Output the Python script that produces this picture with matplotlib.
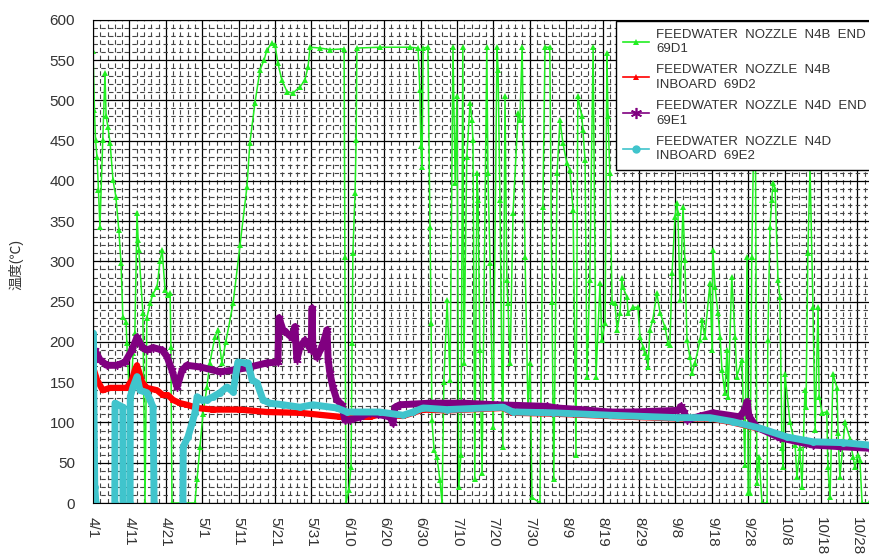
import matplotlib
matplotlib.use("Agg")
import matplotlib.pyplot as plt
from matplotlib.lines import Line2D
import numpy as np

plt.rcParams['font.family'] = ['Liberation Sans', 'Noto Sans CJK JP', 'DejaVu Sans']

# x = days since 4/1
date_labels = ["4/1", "4/11", "4/21", "5/1", "5/11", "5/21", "5/31", "6/10", "6/20",
               "6/30", "7/10", "7/20", "7/30", "8/9", "8/19", "8/29", "9/8", "9/18",
               "9/28", "10/8", "10/18", "10/28"]

# FEEDWATER NOZZLE N4B END 69D1
n4b_end_day = [
    0.0, 0.4, 0.7, 1.1, 1.5, 1.9, 2.7, 3.3, 3.6, 4.1, 4.7, 5.5, 6.3, 7.1, 7.7, 8.2,
    9.1, 9.3, 9.8, 10.2, 10.4, 11.0, 11.5, 12.1, 12.4, 12.6, 13.7, 14.3, 14.8, 15.7,
    16.5, 17.6, 18.4, 19.0, 19.8, 20.6, 21.2, 21.4, 21.7, 28.0, 28.6, 29.4, 30.2, 31.3,
    32.1, 33.5, 34.3, 35.4, 36.5, 38.5, 40.4, 42.3, 43.1, 44.5, 45.9, 47.0, 47.8, 49.2,
    50.0, 50.8, 51.9, 53.3, 54.9, 56.9, 58.2, 59.1, 59.6, 62.4, 65.1, 69.0, 69.2, 69.5,
    70.3, 70.9, 71.2, 71.4, 72.0, 72.3, 72.5, 78.8, 87.1, 89.3, 89.8, 90.1, 90.4, 90.7,
    92.0, 92.6, 92.9, 93.1, 93.7, 94.5, 95.3, 95.9, 96.4, 97.3, 98.1, 98.9, 99.5, 100.0,
    100.5, 101.1, 101.6, 101.9, 102.7, 103.6, 104.1, 104.4, 104.9, 105.5, 105.8, 106.3,
    106.9, 108.2, 108.5, 109.1, 109.9, 111.0, 111.3, 111.8, 112.6, 113.2, 113.7, 114.0,
    114.6, 115.4, 116.8, 117.3, 117.9, 118.7, 119.5, 120.1, 120.6, 122.8, 123.6, 124.2,
    125.5, 126.1, 126.6, 127.5, 128.3, 129.1, 130.2, 131.0, 131.9, 132.7, 133.2, 134.3,
    134.6, 135.2, 135.7, 136.5, 137.4, 138.2, 139.3, 139.8, 140.7, 141.2, 141.5, 142.0,
    142.6, 143.4, 144.0, 144.8, 145.3, 145.6, 146.7, 147.0, 148.4, 149.7, 150.3, 151.1,
    151.6, 152.2, 152.5, 153.0, 153.8, 154.9, 155.8, 157.1, 158.0, 158.5, 159.1, 159.9,
    160.4, 160.7, 161.3, 162.1, 162.6, 163.2, 164.0, 164.6, 165.4, 166.8, 167.3, 168.1,
    169.5, 170.1, 170.3, 170.9, 171.7, 172.3, 172.8, 173.6, 174.2, 174.5, 175.5, 176.4,
    176.9, 178.3, 179.1, 179.7, 180.0, 180.5, 181.0, 181.9, 182.4, 183.0, 183.8, 185.2,
    185.4, 186.0, 186.5, 186.8, 187.4, 188.2, 188.7, 189.3, 189.6, 190.1, 191.5, 192.9,
    193.4, 194.2, 194.8, 195.6, 195.9, 196.4, 197.0, 197.8, 198.4, 199.2, 199.5, 200.3,
    201.6, 201.9, 202.5, 203.3, 204.4, 204.7, 205.2, 206.6, 208.0, 208.8, 209.3, 210.2,
    210.7, 211.3, 213.2]
n4b_end_temp = [
    561, 488, 451, 430, 389, 343, 451, 534, 480, 467, 447, 401, 380, 339, 298, 231,
    225, 199, 150, 0, 130, 186, 211, 360, 327, 314, 236, 0, 230, 248,
    260, 268, 300, 314, 265, 258, 261, 194, 0, 0, 30, 70, 110, 144,
    174, 206, 215, 174, 200, 248, 320, 393, 447, 497, 538, 550, 563, 571,
    569, 546, 525, 511, 509, 517, 525, 542, 566, 565, 563, 564, 306, 0,
    16, 45, 199, 311, 385, 451, 565, 566, 566, 565, 513, 443, 417, 565,
    566, 343, 224, 103, 66, 57, 29, 0, 150, 252, 153, 566, 398, 505,
    20, 60, 566, 174, 430, 497, 476, 451, 30, 410, 376, 190,
    37, 566, 410, 298, 94, 566, 538, 376, 70, 505, 277, 248,
    174, 360, 484, 476, 566, 306, 119, 174, 7, 0, 368, 566,
    566, 250, 30, 410, 476, 447, 422, 414, 364, 60, 505, 480,
    463, 426, 157, 277, 566, 157, 273, 202, 224, 559, 480, 410,
    250, 248, 215, 236, 279, 268, 256, 236, 243, 243, 206, 194,
    186, 181, 169, 215, 227, 261, 236, 219, 199, 196, 286, 355,
    373, 360, 252, 368, 302, 202, 181, 161, 174, 202, 227, 206,
    273, 190, 314, 268, 236, 206, 165, 137, 190, 132, 281, 206,
    157, 178, 47, 306, 12, 12, 306, 560, 25, 57, 0, 0,
    202, 343, 376, 398, 390, 277, 256, 68, 45, 160, 100, 72,
    32, 68, 20, 140, 119, 310, 417, 243, 91, 243, 132, 112,
    113, 45, 7, 160, 143, 87, 32, 100, 80, 57, 45, 60,
    53, 0, 0]

# FEEDWATER NOZZLE N4B INBOARD 69D2
n4b_inb_day = [0.0, 1.1, 2.7, 4.7, 7.4, 9.3, 10.7, 11.5, 12.1, 13.5, 14.8, 17.6, 19.2,
               20.6, 22.0, 23.9, 25.8, 28.6, 33.0, 40.4, 47.8, 56.9, 67.9, 76.1, 78.8,
               85.2, 87.9, 90.7, 97.3, 112.6, 115.4, 126.4, 142.0, 160.4, 169.5, 175.8,
               183.2, 190.7, 197.8, 206.0, 213.2]
n4b_inb_temp = [169, 153, 140, 143, 143, 143, 153, 165, 171, 150, 143, 140, 134,
                134, 128, 124, 122, 118, 116, 116, 113, 112, 107, 107, 110,
                108, 112, 116, 115, 118, 112, 111, 108, 105, 105, 100,
                92, 81, 75, 74, 71]

# FEEDWATER NOZZLE N4D END 69E1
n4d_end_day = [0.0, 0.5, 1.9, 3.8, 6.6, 8.8, 10.7, 12.1, 13.5, 14.8, 16.5, 19.0, 20.3,
               21.7, 23.1, 24.5, 25.8, 29.4, 34.9, 38.5, 42.3, 47.8, 50.8, 51.1, 52.2,
               53.3, 54.7, 55.5, 56.0, 56.9, 58.2, 59.9, 60.2, 60.4, 61.5, 62.9, 64.3,
               64.6, 65.1, 65.9, 67.0, 68.4, 69.2, 70.6, 73.4, 76.1, 78.3, 81.6, 82.4,
               83.0, 84.3, 92.6, 101.6, 111.0, 124.7, 127.5, 133.8, 142.0, 148.4, 160.7,
               161.5, 162.4, 163.2, 166.8, 170.3, 177.7, 179.1, 179.7, 180.2, 182.4,
               188.7, 197.8, 205.2, 213.2]
n4d_end_temp = [190, 190, 178, 171, 171, 175, 190, 206, 194, 190, 193, 190, 182,
                165, 144, 165, 171, 169, 163, 165, 168, 174, 175, 230, 215,
                211, 205, 219, 178, 194, 202, 190, 242, 194, 181, 194, 215,
                178, 161, 144, 128, 122, 103, 103, 107, 112, 110, 107, 99,
                119, 122, 124, 124, 122, 120, 118, 116, 113, 113, 115,
                120, 113, 103, 108, 112, 107, 116, 126, 108, 94,
                81, 72, 70, 68]

# FEEDWATER NOZZLE N4D INBOARD 69E2 (gaps = no data)
n4d_inb_day = [0.0, 0.05, 0.5, 0.8, np.nan,
               6.0, 6.05, 8.2, 8.25, np.nan,
               10.2, 10.25, 11.0, 12.1, 12.9, 14.8, 15.7, 16.5, 16.8, np.nan,
               24.7, 24.8, 26.1, 27.2, 28.0, 28.6, 29.9, 31.3, 33.0, 34.9, 36.8, 38.5,
               39.8, 41.8, 42.6, 43.7, 45.1, 46.7, 48.6, 52.2, 56.9, 60.4, 67.0, 69.8,
               78.8, 85.2, 87.9, 90.7, 97.3, 112.6, 115.4, 126.4, 142.0, 160.4, 169.5,
               175.8, 183.2, 190.7, 197.8, 206.0, 213.2]
n4d_inb_temp = [0, 211, 20, 0, np.nan,
                0, 124, 119, 0, np.nan,
                0, 132, 144, 157, 140, 137, 128, 119, 0, np.nan,
                0, 70, 82, 99, 112, 132, 128, 128, 132, 137, 144, 138,
                175, 174, 174, 153, 149, 128, 124, 122, 119, 122, 118, 113,
                113, 109, 113, 118, 116, 119, 113, 112, 109, 106, 106,
                101, 93, 82, 76, 75, 72]

labels = ["FEEDWATER  NOZZLE  N4B  END\n69D1",
          "FEEDWATER  NOZZLE  N4B\nINBOARD  69D2",
          "FEEDWATER  NOZZLE  N4D  END\n69E1",
          "FEEDWATER  NOZZLE  N4D\nINBOARD  69E2"]

green = "#22EE22"
red = "#FF0000"
purple = "#800080"
cyan = "#40C4CC"
asterisk = (6, 2, 0)

fig = plt.figure(figsize=(8.69, 5.56), dpi=100)
ax = fig.add_axes([0.107, 0.0953, 0.893, 0.869])

ax.plot(n4b_end_day, n4b_end_temp, color=green, lw=1.1, marker="^", ms=4,
        markeredgewidth=0)
ax.plot(n4b_inb_day, n4b_inb_temp, color=red, lw=4.5, marker="^", ms=5,
        markeredgewidth=0)
ax.plot(n4d_end_day, n4d_end_temp, color=purple, lw=5, marker=asterisk, ms=6,
        markeredgewidth=1.0)
ax.plot(n4d_inb_day, n4d_inb_temp, color=cyan, lw=5, marker="o", ms=5,
        markeredgewidth=0)

ax.set_xlim(0, 213.2)
ax.set_ylim(0, 600)
ax.set_xticks(np.arange(0, 211, 10))
ax.set_xticklabels(date_labels, rotation=270, va="top", ha="center")
ax.set_xticks(np.arange(0, 214, 2), minor=True)
ax.set_yticks(np.arange(0, 601, 50))
ax.set_yticks(np.arange(0, 601, 10), minor=True)
ax.tick_params(which="both", length=0)
ax.tick_params(axis="y", pad=13, labelsize=11, labelcolor="#333333")
ax.tick_params(axis="x", pad=10, labelsize=11, labelcolor="#333333")

ax.set_axisbelow(True)
ax.grid(which="major", color="black", lw=0.9)
ax.grid(which="minor", color="#444444", lw=0.8, ls=(0, (4, 3)))
for side in ["left", "bottom", "top"]:
    ax.spines[side].set_color("black")
ax.spines["right"].set_visible(False)

fig.text(0.018, 0.525, "温度(℃)", rotation=90, ha="center", va="center",
         fontsize=10, color="#333333")

handles = [
    Line2D([], [], color=green, lw=1.2, marker="^", ms=5, markeredgewidth=0),
    Line2D([], [], color=red, lw=1.2, marker="^", ms=5, markeredgewidth=0),
    Line2D([], [], color=purple, lw=1.2, marker=asterisk, ms=8, markeredgewidth=1.2),
    Line2D([], [], color=cyan, lw=1.2, marker="o", ms=6, markeredgewidth=0),
]
leg = ax.legend(handles, labels, loc="upper right", bbox_to_anchor=(1.006, 0.997),
                fontsize=9.5, frameon=True, fancybox=False, framealpha=1,
                edgecolor="black", borderaxespad=0, handlelength=2.0,
                handletextpad=0.5, labelspacing=0.68, borderpad=0.55)
leg.get_frame().set_linewidth(1.0)
for t in leg.get_texts():
    t.set_color("#333333")
    t.set_linespacing(1.3)

plt.savefig("out.png", dpi=100)
